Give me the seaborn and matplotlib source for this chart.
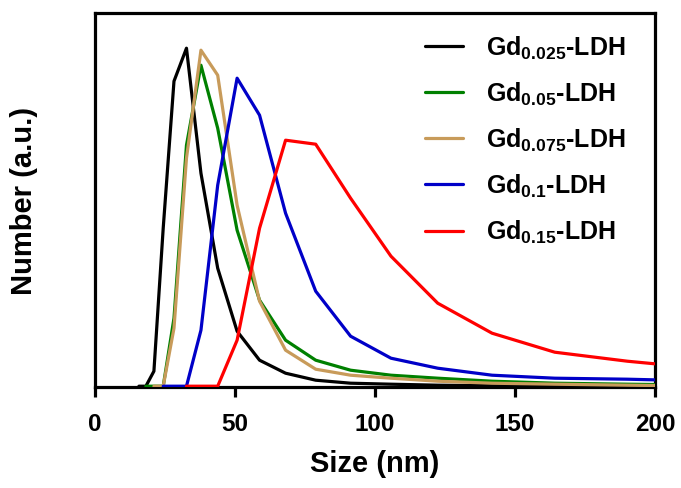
import matplotlib
matplotlib.use("Agg")
import matplotlib.pyplot as plt
import seaborn as sns
import pandas as pd

# DLS size bins (nm)
bins = [15.69, 18.17, 21.04, 24.36, 28.21, 32.67, 37.84, 43.82, 50.75, 58.77,
        68.06, 78.82, 91.28, 105.7, 122.4, 141.8, 164.2, 190.1, 220.2]

# Number distributions (a.u.), None = bin not plotted
gd0025 = [0, 0, 15, 158, 305, 338, 213, 118, 55, 26, 13, 6, 3, 2, 1, 0.5, 0, 0, 0]
gd005 = [None, 0, 0, 0, 68, 241, 321, 258, 156, 86, 46, 26, 16, 11, 8, 5, 3, 2, 1]
gd0075 = [None, None, 0, 0, 58, 228, 336, 311, 181, 85, 36, 17, 11, 8, 5, 3, 2, 1, 0]
gd01 = [None, None, None, 0, 0, 0, 56, 201, 308, 271, 173, 95, 50, 28, 18, 11, 8, 7, 5]
gd015 = [None, None, None, None, None, 0, 0, 0, 46, 158, 246, 242, 188, 130, 83, 53, 34, 25, 17]

labels = [r"Gd$_{0.025}$-LDH", r"Gd$_{0.05}$-LDH", r"Gd$_{0.075}$-LDH",
          r"Gd$_{0.1}$-LDH", r"Gd$_{0.15}$-LDH"]
series = [gd0025, gd005, gd0075, gd01, gd015]
colors = ["#000000", "#008000", "#C89B5A", "#0000C8", "#FF0000"]

rows = []
for lab, vals in zip(labels, series):
    for x, y in zip(bins, vals):
        if y is not None:
            rows.append({"Size": x, "Number": y, "Sample": lab})
df = pd.DataFrame(rows)

sns.set_style("ticks")
plt.rcParams["font.family"] = ["Liberation Sans", "DejaVu Sans"]
plt.rcParams["font.weight"] = "bold"
plt.rcParams["text.color"] = "black"
plt.rcParams["axes.labelcolor"] = "black"
plt.rcParams["xtick.color"] = "black"
plt.rcParams["ytick.color"] = "black"
plt.rcParams["mathtext.fontset"] = "custom"
plt.rcParams["mathtext.rm"] = "Liberation Sans:bold"
plt.rcParams["mathtext.it"] = "Liberation Sans:bold"
plt.rcParams["mathtext.bf"] = "Liberation Sans:bold"
plt.rcParams["mathtext.default"] = "rm"

fig = plt.figure(figsize=(6.81, 4.89), dpi=100)
ax = fig.add_axes([95/681, 101/489, 560/681, 374/489])

sns.lineplot(data=df, x="Size", y="Number", hue="Sample", hue_order=labels,
             palette=colors, linewidth=2.3, ax=ax, zorder=3, sort=False,
             estimator=None)

ax.set_xlim(0, 200)
ax.set_ylim(-0.8, 373.2)
ax.set_xticks([0, 50, 100, 150, 200])
ax.set_yticks([])
for s in ax.spines.values():
    s.set_visible(True)
    s.set_linewidth(2.3)
    s.set_color("black")
ax.tick_params(axis="x", length=7, width=2.3, pad=11, labelsize=17.5,
               color="black", labelcolor="black")
for t in ax.get_xticklabels():
    t.set_fontweight("bold")

ax.set_xlabel("Size (nm)", fontsize=21, fontweight="bold", labelpad=10,
              color="black")
ax.set_ylabel("Number (a.u.)", fontsize=21, fontweight="bold", color="black")
ax.yaxis.set_label_coords(-0.102, 0.5)

leg = ax.legend(loc="upper left", bbox_to_anchor=(412/681, 1 - 22/489),
                bbox_transform=fig.transFigure, frameon=False, fontsize=18,
                handlelength=1.52, handletextpad=0.92, labelspacing=0.76,
                borderpad=0)
for line in leg.get_lines():
    line.set_linewidth(2.3)
for t in leg.get_texts():
    t.set_color("black")

fig.savefig("out.png", dpi=100)
